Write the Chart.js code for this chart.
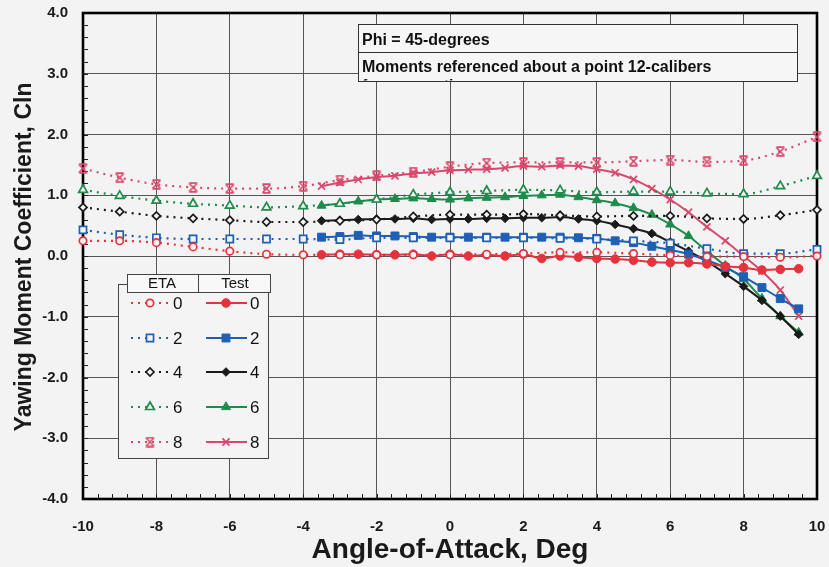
<!DOCTYPE html>
<html>
<head>
<meta charset="utf-8">
<title>Yawing Moment Coefficient vs Angle-of-Attack</title>
<script src="https://cdn.jsdelivr.net/npm/chart.js@4.4.1/dist/chart.umd.min.js"></script>
<style>
  html, body { margin: 0; padding: 0; background: #f3f3f3; }
  canvas { display: block; }
</style>
</head>
<body>
<canvas id="clnChart" width="829" height="567"></canvas>
<script>
// angle of attack, deg
const alphaEta = [-10, -9, -8, -7, -6, -5, -4, -3, -2, -1, 0, 1, 2, 3, 4, 5, 6, 7, 8, 9, 10];
const alphaTest = [-3.5, -3, -2.5, -2, -1.5, -1, -0.5, 0, 0.5, 1, 1.5, 2, 2.5, 3, 3.5, 4, 4.5, 5, 5.5, 6, 6.5, 7, 7.5, 8, 8.5, 9, 9.5];

// ETA prediction, Cln
const eta0 = [0.25, 0.25, 0.22, 0.15, 0.08, 0.03, 0.02, 0.02, 0.02, 0.02, 0.02, 0.03, 0.04, 0.06, 0.06, 0.04, 0.01, -0.01, -0.01, -0.02, 0.00];
const eta2 = [0.43, 0.35, 0.30, 0.28, 0.28, 0.28, 0.28, 0.27, 0.30, 0.30, 0.30, 0.30, 0.30, 0.29, 0.28, 0.25, 0.21, 0.12, 0.04, 0.04, 0.11];
const eta4 = [0.80, 0.73, 0.66, 0.62, 0.59, 0.56, 0.56, 0.58, 0.60, 0.65, 0.68, 0.68, 0.69, 0.67, 0.65, 0.66, 0.66, 0.62, 0.61, 0.67, 0.76];
const eta6 = [1.09, 0.99, 0.91, 0.86, 0.83, 0.80, 0.82, 0.86, 0.93, 1.01, 1.05, 1.07, 1.09, 1.08, 1.05, 1.06, 1.06, 1.03, 1.02, 1.15, 1.32];
const eta8 = [1.44, 1.29, 1.18, 1.13, 1.11, 1.11, 1.15, 1.25, 1.32, 1.38, 1.47, 1.53, 1.54, 1.54, 1.54, 1.56, 1.58, 1.55, 1.57, 1.72, 1.96];

// wind tunnel test, Cln
const test0 = [0.02, 0.03, 0.03, 0.02, 0.02, 0.03, 0.00, 0.03, 0.00, 0.02, 0.00, 0.03, -0.04, 0.00, -0.02, -0.04, -0.05, -0.07, -0.10, -0.11, -0.11, -0.13, -0.17, -0.19, -0.23, -0.22, -0.21];
const test2 = [0.31, 0.32, 0.34, 0.33, 0.33, 0.32, 0.31, 0.31, 0.31, 0.31, 0.31, 0.31, 0.31, 0.31, 0.30, 0.29, 0.25, 0.22, 0.16, 0.10, 0.03, -0.07, -0.19, -0.34, -0.52, -0.70, -0.87];
const test4 = [0.58, 0.59, 0.60, 0.61, 0.61, 0.62, 0.60, 0.61, 0.61, 0.62, 0.62, 0.63, 0.63, 0.64, 0.61, 0.58, 0.52, 0.45, 0.37, 0.23, 0.08, -0.09, -0.29, -0.50, -0.73, -0.99, -1.29];
const test6 = [0.83, 0.86, 0.90, 0.93, 0.94, 0.95, 0.94, 0.93, 0.95, 0.96, 0.97, 0.99, 1.00, 1.01, 0.97, 0.92, 0.87, 0.79, 0.68, 0.52, 0.33, 0.08, -0.16, -0.38, -0.70, -0.99, -1.26];
const test8 = [1.15, 1.21, 1.26, 1.30, 1.32, 1.36, 1.38, 1.41, 1.42, 1.43, 1.45, 1.48, 1.47, 1.49, 1.48, 1.43, 1.37, 1.26, 1.11, 0.93, 0.72, 0.48, 0.25, 0.00, -0.25, -0.56, -0.99];

const etaLabels = ['0', '2', '4', '6', '8'];
const xTicks = [-10, -8, -6, -4, -2, 0, 2, 4, 6, 8, 10];
const yTicks = [-4, -3, -2, -1, 0, 1, 2, 3, 4];

const noteLines = ['Phi = 45-degrees', 'Moments referenced about a point 12-calibers', 'from nose tip'];

const BG = '#f3f3f3';
const colors = ['#e5323f', '#1f5fb4', '#1a1a1a', '#1f8b4d', '#d9486c'];

// ETA 8 marker: x with bars
const starMark = document.createElement('canvas');
starMark.width = 11;
starMark.height = 11;
(function() {
  const c = starMark.getContext('2d');
  c.strokeStyle = colors[4];
  c.lineWidth = 1.7;
  c.beginPath();
  c.moveTo(1.5, 1.5); c.lineTo(9.5, 9.5);
  c.moveTo(9.5, 1.5); c.lineTo(1.5, 9.5);
  c.moveTo(1.5, 1.2); c.lineTo(9.5, 1.2);
  c.moveTo(1.5, 9.8); c.lineTo(9.5, 9.8);
  c.stroke();
})();

const etaStyles = ['circle', 'rect', 'rectRot', 'triangle', starMark];
const etaRadius = [3.7, 5, 4, 5, 5];
const testStyles = ['circle', 'rect', 'rectRot', 'triangle', 'crossRot'];
const testRadius = [4.3, 5.6, 4.3, 5.2, 5];

const etaSeries = [eta0, eta2, eta4, eta6, eta8];
const testSeries = [test0, test2, test4, test6, test8];

const toPoints = (xs, ys) => xs.map((x, i) => ({ x: x, y: ys[i] }));

const datasets = [];
etaSeries.forEach((ys, i) => {
  datasets.push({
    label: 'ETA ' + etaLabels[i],
    data: toPoints(alphaEta, ys),
    showLine: true,
    borderColor: colors[i],
    borderWidth: 2.2,
    borderDash: [2, 5],
    cubicInterpolationMode: 'monotone',
    pointStyle: etaStyles[i],
    pointRadius: etaRadius[i],
    pointBackgroundColor: BG,
    pointBorderColor: colors[i],
    pointBorderWidth: 1.7,
    clip: false
  });
});
testSeries.forEach((ys, i) => {
  datasets.push({
    label: 'Test ' + etaLabels[i],
    data: toPoints(alphaTest, ys),
    showLine: true,
    borderColor: colors[i],
    borderWidth: 2,
    cubicInterpolationMode: 'monotone',
    pointStyle: testStyles[i],
    pointRadius: testRadius[i],
    pointBackgroundColor: colors[i],
    pointBorderColor: colors[i],
    pointBorderWidth: i === 4 ? 1.7 : 1,
    clip: false
  });
});

// minor ticks and heavy frame, under the data
const framePlugin = {
  id: 'frame',
  beforeDatasetsDraw(chart) {
    const { ctx, chartArea: a, scales: { x, y } } = chart;
    ctx.save();
    ctx.strokeStyle = '#222';
    ctx.lineWidth = 1;
    ctx.beginPath();
    for (let k = 0; k <= 50; k++) {
      const px = Math.round(x.getPixelForValue(-10 + k * 0.4)) + 0.5;
      ctx.moveTo(px, a.bottom);
      ctx.lineTo(px, a.bottom - 5);
    }
    for (let k = 0; k <= 40; k++) {
      const py = Math.round(y.getPixelForValue(-4 + k * 0.2)) + 0.5;
      ctx.moveTo(a.left, py);
      ctx.lineTo(a.left + 5, py);
    }
    ctx.stroke();
    ctx.strokeStyle = '#000';
    ctx.lineWidth = 2.6;
    ctx.strokeRect(a.left, a.top, a.right - a.left, a.bottom - a.top);
    ctx.restore();
  }
};

// note box, legend table and y title
const boxesPlugin = {
  id: 'boxes',
  afterDraw(chart) {
    const ctx = chart.ctx;
    ctx.save();

    // note box
    ctx.fillStyle = '#f6f6f6';
    ctx.fillRect(358, 24, 439, 57);
    ctx.strokeStyle = '#333';
    ctx.lineWidth = 1;
    ctx.strokeRect(358.5, 24.5, 439, 57);
    ctx.beginPath();
    ctx.moveTo(358.5, 52.5);
    ctx.lineTo(797.5, 52.5);
    ctx.stroke();
    ctx.fillStyle = '#111';
    ctx.font = 'bold 16px "Liberation Sans", Arial, sans-serif';
    ctx.textBaseline = 'alphabetic';
    ctx.textAlign = 'left';
    ctx.fillText(noteLines[0], 362, 45);
    ctx.fillText(noteLines[1], 362, 72);
    ctx.save();
    ctx.beginPath();
    ctx.rect(358, 53, 439, 27.5);
    ctx.clip();
    ctx.fillText(noteLines[2], 362, 91);
    ctx.restore();

    // legend table
    ctx.fillStyle = '#f4f4f4';
    ctx.fillRect(118, 284, 150, 174);
    ctx.strokeStyle = '#444';
    ctx.lineWidth = 1;
    ctx.strokeRect(118.5, 284.5, 150, 174);
    ctx.fillStyle = '#f8f8f8';
    ctx.fillRect(127, 274, 144, 18);
    ctx.strokeRect(127.5, 274.5, 71, 18);
    ctx.strokeRect(198.5, 274.5, 72, 18);
    ctx.fillStyle = '#111';
    ctx.font = '15px "Liberation Sans", Arial, sans-serif';
    ctx.textAlign = 'center';
    ctx.textBaseline = 'middle';
    ctx.fillText('ETA', 162, 284);
    ctx.fillText('Test', 235, 284);

    const drawPoint = Chart.helpers && Chart.helpers.drawPoint;
    const rowY = [303, 338, 372, 407, 442];
    rowY.forEach((ry, i) => {
      ctx.strokeStyle = colors[i];
      ctx.lineWidth = 2.2;
      ctx.setLineDash([2, 5]);
      ctx.beginPath();
      ctx.moveTo(131, ry);
      ctx.lineTo(170, ry);
      ctx.stroke();
      ctx.setLineDash([]);
      ctx.lineWidth = 2;
      ctx.beginPath();
      ctx.moveTo(206, ry);
      ctx.lineTo(247, ry);
      ctx.stroke();

      if (drawPoint) {
        ctx.fillStyle = BG;
        ctx.lineWidth = 1.7;
        drawPoint(ctx, { pointStyle: etaStyles[i], radius: etaRadius[i], rotation: 0, borderWidth: 1.7 }, 150, ry);
        ctx.fillStyle = colors[i];
        ctx.lineWidth = i === 4 ? 1.7 : 1;
        drawPoint(ctx, { pointStyle: testStyles[i], radius: testRadius[i], rotation: 0, borderWidth: 1 }, 226, ry);
      }

      ctx.fillStyle = '#111';
      ctx.font = '17px "Liberation Sans", Arial, sans-serif';
      ctx.textAlign = 'left';
      ctx.fillText(etaLabels[i], 173, ry + 1);
      ctx.fillText(etaLabels[i], 250, ry + 1);
    });

    // y axis title
    ctx.translate(31, 257);
    ctx.rotate(-Math.PI / 2);
    ctx.fillStyle = '#1a1a1a';
    ctx.font = 'bold 23px "Liberation Sans", Arial, sans-serif';
    ctx.textAlign = 'center';
    ctx.textBaseline = 'alphabetic';
    ctx.fillText('Yawing Moment Coefficient, Cln', 0, 0);

    ctx.restore();
  }
};

new Chart(document.getElementById('clnChart'), {
  type: 'scatter',
  data: { datasets: datasets },
  options: {
    responsive: false,
    animation: false,
    events: [],
    layout: {
      autoPadding: false,
      padding: { top: 13, right: 12, left: 0, bottom: 0 }
    },
    scales: {
      x: {
        type: 'linear',
        min: -10,
        max: 10,
        afterBuildTicks: (s) => { s.ticks = xTicks.map(v => ({ value: v })); },
        afterFit: (s) => { s.height = 68; s.paddingLeft = 0; s.paddingRight = 0; },
        border: { display: false },
        grid: {
          color: '#555',
          lineWidth: 1,
          drawTicks: false
        },
        ticks: {
          autoSkip: false,
          maxRotation: 0,
          padding: 19,
          color: '#1a1a1a',
          font: { family: '"Liberation Sans", Arial, sans-serif', size: 15, weight: 'bold' }
        },
        title: {
          display: true,
          text: 'Angle-of-Attack, Deg',
          color: '#1a1a1a',
          padding: { top: 0, bottom: 0 },
          font: { family: '"Liberation Sans", Arial, sans-serif', size: 28, weight: 'bold' }
        }
      },
      y: {
        type: 'linear',
        min: -4,
        max: 4,
        afterBuildTicks: (s) => { s.ticks = yTicks.map(v => ({ value: v })); },
        afterFit: (s) => { s.width = 83; s.paddingTop = 0; s.paddingBottom = 0; },
        border: { display: false },
        grid: {
          color: '#555',
          lineWidth: 1,
          drawTicks: false
        },
        ticks: {
          autoSkip: false,
          padding: 15,
          color: '#1a1a1a',
          font: { family: '"Liberation Sans", Arial, sans-serif', size: 15, weight: 'bold' },
          callback: (v) => Number(v).toFixed(1)
        }
      }
    },
    plugins: {
      legend: { display: false },
      tooltip: { enabled: false }
    }
  },
  plugins: [framePlugin, boxesPlugin]
});
</script>
</body>
</html>
